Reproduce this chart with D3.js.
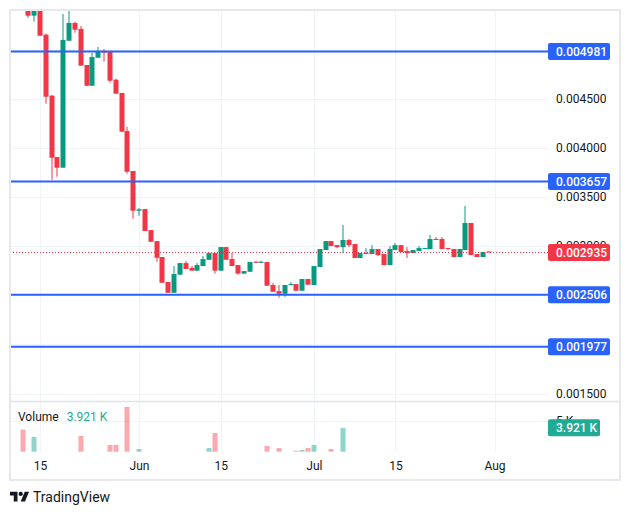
<!DOCTYPE html>
<html>
<head>
<meta charset="utf-8">
<script src="https://cdn.jsdelivr.net/npm/d3@7"></script>
<style>
  body { margin: 0; background: #fff; }
  text { font-family: Roboto, "Noto Sans", sans-serif; }
</style>
</head>
<body>
<div id="vis-holder"></div>
<script>
// daily candles, 12 May .. 31 Jul
var START = "2024-05-12";
var OPEN = [0.00562,0.00550,0.005345,0.00548,0.005152,0.004531,0.003906,0.003798,0.00509,0.005271,
  0.00521,0.004843,0.004632,0.004917,0.004986,0.004978,0.004693,0.004558,0.004171,0.003764,
  0.00336,0.003377,0.003163,0.003051,0.002889,0.002634,0.002525,0.002709,0.002827,0.002777,
  0.00275,0.002797,0.002861,0.002929,0.00275,0.00299,0.002868,0.002807,0.00272,0.002739,
  0.002841,0.00283,0.002838,0.002604,0.002542,0.002515,0.002604,0.002614,0.002546,0.002665,
  0.002604,0.002787,0.00296,0.003051,0.00301,0.00299,0.003062,0.003021,0.002879,0.002922,
  0.002919,0.00297,0.002919,0.002807,0.00296,0.00301,0.00295,0.002929,0.00295,0.00297,
  0.00297,0.003072,0.003072,0.00298,0.00297,0.002889,0.00296,0.003235,0.002919,0.002889,0.002945];
var HIGH = [0.00566,0.00551,0.00550,0.00549,0.005162,0.004538,0.003906,0.005362,0.00541,0.005281,
  0.00524,0.004843,0.004965,0.005026,0.005006,0.004978,0.004704,0.004558,0.004215,0.003764,
  0.003387,0.003377,0.003163,0.003051,0.002889,0.002634,0.002797,0.002827,0.002848,0.002797,
  0.002827,0.002899,0.002929,0.002929,0.00299,0.00299,0.002929,0.002807,0.002746,0.002838,
  0.002851,0.002851,0.002838,0.002624,0.002604,0.002604,0.002634,0.002614,0.002665,0.002665,
  0.002797,0.00297,0.003051,0.003051,0.00301,0.003214,0.003072,0.003021,0.002929,0.00298,
  0.00301,0.00297,0.002919,0.003,0.003031,0.00301,0.00299,0.00296,0.003,0.00298,
  0.003113,0.003092,0.003092,0.00298,0.00297,0.00297,0.003408,0.003235,0.002919,0.00294,0.002945];
var LOW = [0.00548,0.005324,0.005284,0.005141,0.004449,0.003675,0.003706,0.003798,0.00509,0.005172,
  0.004836,0.004632,0.004632,0.004917,0.004877,0.004663,0.004551,0.004164,0.003737,0.003279,
  0.003309,0.003153,0.003044,0.002841,0.002627,0.002525,0.002525,0.002709,0.002767,0.00275,
  0.00275,0.002797,0.002861,0.00272,0.00275,0.002861,0.002797,0.002709,0.00272,0.002739,
  0.00283,0.00283,0.002597,0.002535,0.002474,0.002484,0.002604,0.002546,0.002546,0.002607,
  0.002604,0.002787,0.00296,0.003,0.00298,0.002929,0.00299,0.002879,0.002879,0.002922,
  0.002919,0.002899,0.002807,0.002807,0.00296,0.00294,0.002879,0.002929,0.00295,0.00297,
  0.00297,0.003062,0.00297,0.00296,0.002889,0.002889,0.00296,0.002909,0.002889,0.002889,0.002935];
var CLOSE = [0.00550,0.005345,0.00548,0.005141,0.00452,0.003899,0.003798,0.005098,0.005271,0.005202,
  0.004836,0.004632,0.004924,0.004986,0.004968,0.004683,0.004551,0.004164,0.003757,0.00336,
  0.003374,0.003153,0.003044,0.002881,0.002627,0.002525,0.002716,0.002827,0.002767,0.00275,
  0.002807,0.002868,0.002929,0.00275,0.00299,0.002861,0.002797,0.00272,0.002746,0.002838,
  0.00283,0.002841,0.002597,0.002535,0.002515,0.002604,0.002614,0.002546,0.002665,0.002607,
  0.002797,0.00297,0.003051,0.003,0.00299,0.003062,0.00301,0.002879,0.002929,0.002929,
  0.00297,0.002909,0.002807,0.00297,0.00301,0.00294,0.002929,0.00296,0.00298,0.00298,
  0.003072,0.003062,0.00297,0.00297,0.002889,0.00297,0.003235,0.002909,0.002889,0.00294,0.002935];
var VOLUME = [3620,0,2420,0,0,0,0,0,0,0,
  2580,0,0,0,0,1100,1100,0,7350,0,
  440,0,0,0,0,0,0,0,0,0,
  0,0,600,3070,0,0,0,0,0,0,
  0,0,940,0,600,0,0,160,280,600,
  1100,0,0,440,0,3921,0,0,0,0,
  0,0,0,0,0,0,0,0,0,0,
  0,0,0,0,0,0,0,0,0,0,0];

var LEVELS = [0.004981, 0.003657, 0.002506, 0.001977];
var LAST_PRICE = 0.002935;
var LAST_VOLUME = "3.921 K";
var PRICE_TICKS = [0.0015, 0.002, 0.0025, 0.003, 0.0035, 0.004, 0.0045, 0.005];
var TIME_TICKS = ["2024-05-15","2024-06-01","2024-06-15","2024-07-01","2024-07-15","2024-08-01"];
var TIME_LABELS = ["15","Jun","15","Jul","15","Aug"];

var RED = "#f23645", GREEN = "#089981", BLUE = "#2962ff";

var W = 630, H = 515;
var plot = {left: 10, top: 10, right: 548, bottom: 401};
var volPane = {top: 401, bottom: 452};

var svg = d3.select("#vis-holder")
  .append("svg")
    .attr("width", W)
    .attr("height", H);

var parse = d3.utcParse("%Y-%m-%d");
var start = parse(START);
var data = OPEN.map(function(o, i) {
  return {date: d3.utcDay.offset(start, i), o: o, h: HIGH[i], l: LOW[i], c: CLOSE[i], v: VOLUME[i]};
});

// scales
var x = d3.scaleUtc()
  .domain([parse("2024-05-15"), parse("2024-08-01")])
  .range([40, 494.5]);
var y = d3.scaleLinear()
  .domain([0.0015, 0.0045])
  .range([393.5, 98.7]);
var yv = d3.scaleLinear()
  .domain([0, 5000])
  .range([451.7, 421.3]);

svg.append("defs").append("clipPath").attr("id", "clip")
  .append("rect")
    .attr("x", plot.left).attr("y", plot.top)
    .attr("width", plot.right - plot.left).attr("height", plot.bottom - plot.top);

// grid
var grid = svg.append("g").attr("stroke", "#f0f3fa").attr("stroke-width", 1);
grid.selectAll("line.v")
  .data(TIME_TICKS)
  .enter().append("line")
    .attr("x1", d => Math.round(x(parse(d))) + 0.5)
    .attr("x2", d => Math.round(x(parse(d))) + 0.5)
    .attr("y1", plot.top).attr("y2", volPane.bottom);
grid.selectAll("line.h")
  .data(PRICE_TICKS)
  .enter().append("line")
    .attr("x1", plot.left).attr("x2", plot.right)
    .attr("y1", d => Math.round(y(d)) + 0.5)
    .attr("y2", d => Math.round(y(d)) + 0.5);
grid.append("line")
  .attr("x1", plot.left).attr("x2", plot.right)
  .attr("y1", Math.round(yv(5000)) + 0.5).attr("y2", Math.round(yv(5000)) + 0.5);

// candles
var cw = 5;
var candles = svg.append("g").attr("clip-path", "url(#clip)")
  .selectAll("g")
  .data(data)
  .enter().append("g")
    .attr("fill", d => d.c >= d.o ? GREEN : RED);
candles.append("rect")
  .attr("x", d => Math.round(x(d.date)) - 0.5)
  .attr("width", 1)
  .attr("y", d => y(d.h))
  .attr("height", d => Math.max(1, y(d.l) - y(d.h)));
candles.append("rect")
  .attr("x", d => Math.round(x(d.date)) - cw / 2)
  .attr("width", cw)
  .attr("y", d => y(Math.max(d.o, d.c)))
  .attr("height", d => Math.max(1, Math.abs(y(d.o) - y(d.c))));

// volume bars
svg.append("g")
  .selectAll("rect")
  .data(data.filter(d => d.v > 0))
  .enter().append("rect")
    .attr("x", d => Math.round(x(d.date)) - cw / 2)
    .attr("width", cw)
    .attr("y", d => yv(d.v))
    .attr("height", d => yv(0) - yv(d.v))
    .attr("fill", d => d.c >= d.o ? "rgba(34,171,148,0.5)" : "rgba(247,82,95,0.5)");

// last price dotted line
svg.append("line")
  .attr("x1", plot.left).attr("x2", plot.right)
  .attr("y1", y(LAST_PRICE)).attr("y2", y(LAST_PRICE))
  .attr("stroke", RED).attr("stroke-width", 1)
  .attr("stroke-dasharray", "1,2");

// level lines
svg.append("g")
  .selectAll("line")
  .data(LEVELS)
  .enter().append("line")
    .attr("x1", plot.left).attr("x2", plot.right)
    .attr("y1", d => y(d)).attr("y2", d => y(d))
    .attr("stroke", BLUE).attr("stroke-width", 2);

// price axis: skip ticks that sit fully under a level label
var shown = PRICE_TICKS.filter(t => !LEVELS.some(l => Math.abs(y(l) - y(t)) < 4));
var yAxis = svg.append("g")
  .attr("transform", "translate(" + plot.right + ",0)")
  .call(d3.axisRight(y).tickValues(shown).tickFormat(d3.format(".6f")).tickSize(0).tickPadding(8));
yAxis.select(".domain").remove();
yAxis.selectAll("text").attr("fill", "#131722").style("font-size", "12px");

// volume axis label
svg.append("text")
  .attr("x", plot.right + 8).attr("y", yv(5000)).attr("dy", "0.32em")
  .attr("fill", "#131722").style("font-size", "12px")
  .text("5 K");

// labels on the axis
function axisBox(val, text, color, w) {
  var g = svg.append("g").attr("transform", "translate(" + plot.right + "," + val + ")");
  g.append("rect")
    .attr("x", 0).attr("y", -8.5)
    .attr("width", w).attr("height", 17)
    .attr("rx", 2)
    .attr("fill", color);
  g.append("text")
    .attr("x", 8).attr("dy", "0.35em")
    .attr("fill", "#fff").style("font-size", "12px").style("font-weight", 500)
    .text(text);
}
LEVELS.forEach(function(l) { axisBox(y(l), d3.format(".6f")(l), BLUE, 62); });
axisBox(y(LAST_PRICE), d3.format(".6f")(LAST_PRICE), RED, 62);
axisBox(yv(3921), LAST_VOLUME, "#22ab94", 52);

// time axis
var xAxis = svg.append("g")
  .attr("transform", "translate(0," + volPane.bottom + ")")
  .call(d3.axisBottom(x)
    .tickValues(TIME_TICKS.map(parse))
    .tickFormat((d, i) => TIME_LABELS[i])
    .tickSize(0).tickPadding(9));
xAxis.select(".domain").remove();
xAxis.selectAll("text").attr("fill", "#131722").style("font-size", "12px");

// pane separator and frame
svg.append("line")
  .attr("x1", plot.left).attr("x2", 620)
  .attr("y1", volPane.top + 0.5).attr("y2", volPane.top + 0.5)
  .attr("stroke", "#e0e3eb").attr("stroke-width", 1.5);
svg.append("rect")
  .attr("x", 10).attr("y", 10)
  .attr("width", 610).attr("height", 470)
  .attr("fill", "none")
  .attr("stroke", "#e6e8ee").attr("stroke-width", 2);

// volume legend
var legend = svg.append("text")
  .attr("x", 18).attr("y", 417).attr("dy", "0.35em")
  .style("font-size", "12px");
legend.append("tspan").attr("fill", "#131722").text("Volume");
legend.append("tspan").attr("fill", "#22ab94").attr("dx", 8).text(LAST_VOLUME);

// TradingView logo
var logo = svg.append("g")
  .attr("transform", "translate(10,489.6) scale(0.536)")
  .attr("fill", "#131722");
logo.append("path").attr("d", "M14 22H7V11H0V4h14v18z");
logo.append("circle").attr("cx", 20).attr("cy", 8).attr("r", 4);
logo.append("path").attr("d", "M28 22h-8l7.5-18h8L28 22z");
svg.append("text")
  .attr("x", 33).attr("y", 497).attr("dy", "0.35em")
  .attr("fill", "#131722").style("font-size", "14px")
  .text("TradingView");
</script>
</body>
</html>
